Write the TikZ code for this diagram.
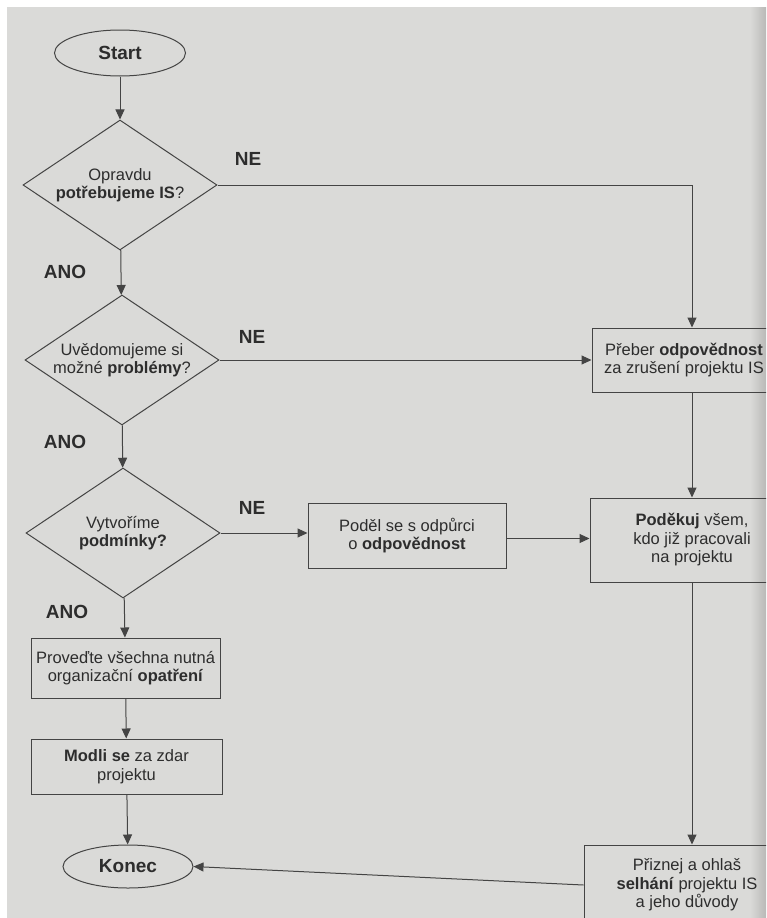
\documentclass[tikz,border=0pt]{standalone}
\usepackage{fontspec}
\setmainfont{Liberation Sans}
\usetikzlibrary{shapes.geometric,arrows.meta}
\definecolor{paper}{RGB}{218,218,216}
\definecolor{ink}{RGB}{45,45,45}
\definecolor{edgec}{RGB}{68,68,68}
\definecolor{spine}{RGB}{185,185,183}
\newcommand{\bodyfont}{\fontsize{16.5}{18.5}\selectfont}
\newcommand{\labfont}{\bfseries\fontsize{19}{22}\selectfont}
\begin{document}
\begin{tikzpicture}[x=1pt,y=-1pt,
  box/.style={draw=edgec, line width=1pt, rectangle, align=center, font=\bodyfont, text=ink, inner sep=2pt},
  dia/.style={draw=edgec, line width=1pt, diamond, aspect=1.49, minimum width=194pt, minimum height=130pt, inner sep=0pt, align=center, font=\bodyfont, text=ink},
  term/.style={draw=edgec, line width=1pt, ellipse, minimum width=131pt, minimum height=46pt, inner sep=0pt, font=\labfont, text=ink},
  lab/.style={font=\labfont, text=ink, inner sep=0pt},
  arr/.style={draw=edgec, line width=1pt, -{Triangle[length=10pt,width=9pt]}}
]
\useasboundingbox (0,0) rectangle (766,918);
\clip (0,0) rectangle (766,918);
\fill[white] (0,0) rectangle (766,918);
\fill[paper] (7,7) rectangle (766,918);
\shade[left color=paper, right color=spine] (750,7) rectangle (766,918);

% terminals
\node[term] (start) at (120,53) {Start};
\node[term, minimum width=130pt, minimum height=43pt] (konec) at (128,866.5) {Konec};

% decisions
\node[dia] (d1) at (120,185) {Opravdu\\\textbf{potřebujeme IS}?};
\node[dia] (d2) at (122,360) {Uvědomujeme si\\možné \textbf{problémy}?};
\node[dia] (d3) at (123,533) {Vytvoříme\\\textbf{podmínky?}};

% boxes
\node[box, minimum width=189pt, minimum height=60pt] (prov) at (125.5,668) {Proveďte všechna nutná\\organizační \textbf{opatření}};
\node[box, minimum width=191pt, minimum height=55pt] (modli) at (126.5,766.5) {\textbf{Modli se} za zdar\\projektu};
\node[box, minimum width=198pt, minimum height=65pt] (podel) at (407,535.5) {Poděl se s odpůrci\\o \textbf{odpovědnost}};
\node[box, minimum width=184pt, minimum height=64pt] (preber) at (684,360) {Přeber \textbf{odpovědnost}\\za zrušení projektu IS};
\node[box, minimum width=204pt, minimum height=84pt] (podekuj) at (692,540) {\textbf{Poděkuj} všem,\\kdo již pracovali\\na projektu};
\node[box, minimum width=206pt, minimum height=80pt] (priznej) at (687,885) {Přiznej a ohlaš\\\textbf{selhání} projektu IS\\a jeho důvody};

% labels
\node[lab] (ne1) at (248,159) {NE};
\node[lab] (ano1) at (65,272) {ANO};
\node[lab] (ne2) at (252,337) {NE};
\node[lab] (ano2) at (65,442) {ANO};
\node[lab] (ne3) at (252,508) {NE};
\node[lab] (ano3) at (67,612) {ANO};

% connectors
\draw[arr] (start) -- (d1);
\draw[arr] (d1) -- (d2);
\draw[arr] (d2) -- (d3);
\draw[arr] (d3) -- (prov);
\draw[arr] (prov) -- (modli);
\draw[arr] (modli) -- (konec);
\draw[arr] (d1.east) -- (d1.east -| podekuj) -- (podekuj |- preber.north);
\draw[arr] (d2.east) -- (preber.west);
\draw[arr] (d3.east) -- (d3.east -| podel.west);
\draw[arr] ([yshift=-3pt]podel.east) -- ([yshift=-3pt]podel.east -| podekuj.west);
\draw[arr] (podekuj |- preber.south) -- (podekuj.north);
\draw[arr] (podekuj.south) -- (podekuj.south |- priznej.north);
\draw[arr] (priznej.west) -- (konec.east);
\end{tikzpicture}
\end{document}
